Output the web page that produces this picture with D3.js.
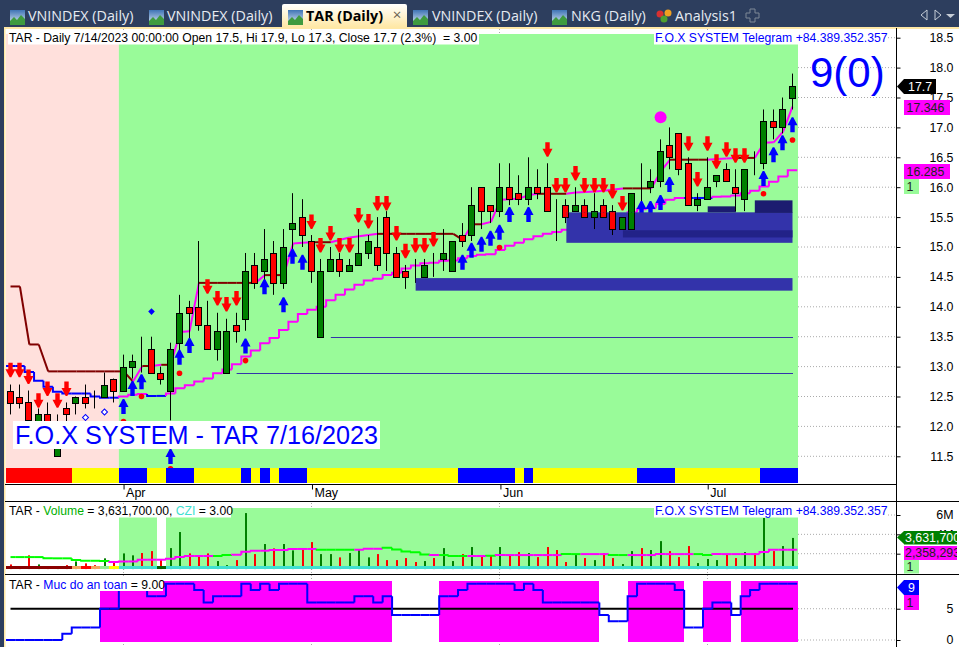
<!DOCTYPE html>
<html>
<head>
<meta charset="utf-8">
<title>TAR (Daily)</title>
<script src="https://cdn.jsdelivr.net/npm/d3@7"></script>
<style>
  html, body { margin: 0; padding: 0; background: #fff; overflow: hidden; }
  text { font-family: "Liberation Sans", Arial, sans-serif; }
  .tabs text { font-family: "Open Sans", sans-serif; }
</style>
</head>
<body>
<div id="chart"></div>
<script>
// candles, one entry per trading day, 3/16/2023 .. 7/14/2023
var opens = [12.6,12.5,12.4,12.0,12.2,11.5,12.3,12.4,12.5,12.5,12.5,12.8,12.6,13.0,13.2,13.3,12.9,12.6,13.4,14.0,14.0,13.7,13.3,12.9,13.7,13.8,14.7,14.6,14.9,14.4,15.3,15.5,15.1,13.5,14.6,14.8,14.6,14.7,14.9,15.0,15.5,14.9,14.6,14.5,14.5,14.7,14.8,14.6,15.2,15.2,16.0,15.7,15.6,16.0,15.9,15.8,16.0,16.0,15.6,15.7,15.6,15.7,15.5,15.7,15.6,15.3,15.3,16.0,16.0,16.1,16.7,16.9,16.4,15.7,15.8,16.1,16.3,16.0,15.8,16.4,16.4,17.1,17.0,17.5];
var highs = [12.7,12.7,12.6,12.3,12.4,12.2,12.4,12.5,12.7,12.6,12.9,12.8,13.2,13.2,13.5,13.5,13.0,13.4,14.2,14.1,15.1,14.1,13.9,13.8,13.9,14.9,14.9,15.3,15.1,15.3,15.9,15.8,15.2,14.8,15.0,14.9,14.8,15.3,15.2,15.5,15.6,15.0,14.7,14.8,14.8,14.9,15.3,15.1,15.4,16.0,16.0,15.7,16.4,16.4,16.2,16.5,16.3,16.4,15.8,15.8,16.0,15.8,15.9,15.8,15.7,15.5,15.9,16.4,16.3,16.8,17.0,16.9,16.5,15.9,16.5,16.2,16.4,16.3,16.3,16.6,17.3,17.3,17.5,17.9];
var lows = [12.2,12.3,11.9,12.0,11.9,11.5,12.0,12.2,12.3,12.3,12.5,12.4,12.6,12.8,12.9,12.9,12.7,12.1,13.2,13.4,13.6,13.3,13.1,12.9,13.4,13.6,14.3,14.4,14.2,14.3,14.9,15.0,14.4,13.5,14.6,14.5,14.6,14.7,14.8,14.6,14.6,14.5,14.3,14.4,14.5,14.5,14.6,14.6,15.0,15.1,15.3,15.4,15.5,15.7,15.7,15.7,15.8,15.6,15.1,15.4,15.6,15.5,15.3,15.5,15.2,15.3,15.3,15.7,15.9,16.0,16.3,16.2,15.7,15.6,15.8,16.0,16.1,15.6,15.6,16.2,16.3,16.8,16.9,17.3];
var closes = [12.4,12.4,12.1,12.2,12.0,12.0,12.2,12.5,12.4,12.5,12.7,12.6,13.0,13.1,13.2,12.9,12.8,13.3,13.9,13.9,13.7,13.3,13.6,13.6,13.6,14.6,14.4,14.8,14.4,15.0,15.4,15.2,14.6,14.6,14.8,14.6,14.7,14.9,15.1,14.7,14.9,14.5,14.5,14.5,14.7,14.7,14.9,15.1,15.1,15.7,15.6,15.6,16.0,15.8,15.8,16.0,15.9,15.6,15.6,15.5,15.7,15.5,15.6,15.5,15.3,15.5,15.9,16.0,16.1,16.6,16.5,16.3,15.7,15.8,16.0,16.2,16.1,15.9,16.3,16.4,17.1,17.0,17.3,17.7];

// trailing line and slower line on the price pane
var upperLine = [14.34,14.34,13.37,13.37,12.92,12.92,12.92,12.92,12.92,12.92,12.92,12.92,12.92,12.75,13.01,13.01,13.03,13.03,13.58,13.59,14.40,14.40,14.40,14.40,14.40,14.40,14.40,14.53,14.53,14.53,15.06,15.07,15.08,15.08,15.08,15.12,15.16,15.18,15.20,15.22,15.22,15.22,15.22,15.22,15.22,15.22,15.22,15.22,15.12,15.38,15.38,15.42,15.79,15.80,15.81,15.87,15.89,15.89,15.89,15.89,15.91,15.92,15.93,15.94,15.96,15.98,15.98,15.98,15.98,16.26,16.46,16.46,16.46,16.46,16.46,16.47,16.48,16.49,16.49,16.49,16.745,16.75,16.93,17.346];
var lowerLine = [13.01,13.01,12.91,12.765,12.665,12.58,12.55,12.55,12.55,12.50,12.48,12.48,12.50,12.53,12.54,12.51,12.51,12.55,12.64,12.69,12.75,12.80,12.89,12.95,13.04,13.17,13.27,13.39,13.48,13.61,13.75,13.88,13.95,14.00,14.11,14.20,14.29,14.37,14.44,14.47,14.53,14.57,14.64,14.69,14.73,14.735,14.77,14.775,14.81,14.85,14.87,14.88,14.95,15.02,15.07,15.13,15.18,15.22,15.25,15.29,15.33,15.37,15.41,15.45,15.50,15.54,15.58,15.63,15.65,15.72,15.79,15.82,15.82,15.82,15.82,15.84,15.845,15.86,15.90,15.94,16.01,16.09,16.18,16.285];

// signals: [bar index, price at the arrow tip]
var sellArrows = [[0,12.82],[1,12.82],[2,12.71],[3,12.31],[4,12.51],[5,12.31],[6,12.51],[21,14.22],[22,14.02],[23,13.92],[24,14.02],[32,15.30],[33,14.91],[34,15.11],[35,14.91],[36,14.91],[37,15.41],[38,15.31],[39,15.61],[40,15.61],[41,15.11],[42,14.81],[43,14.91],[44,14.91],[45,15.01],[57,16.51],[58,15.91],[59,15.91],[60,16.11],[61,15.91],[62,15.91],[63,15.91],[64,15.81],[65,15.61],[72,16.61],[73,16.01],[74,16.61],[75,16.31],[76,16.51],[77,16.41],[78,16.41]];
var buyArrows = [[12,12.46],[13,12.76],[14,12.87],[17,11.62],[18,13.28],[19,13.48],[25,13.47],[27,14.46],[29,14.16],[30,14.97],[31,14.87],[48,14.87],[49,15.07],[50,15.17],[51,15.27],[52,15.37],[53,15.67],[55,15.67],[67,15.77],[68,15.77],[69,15.87],[70,16.17],[80,16.27],[81,16.67],[82,16.87],[83,17.17]];
var redDots = [[12,12.08],[14,12.50],[17,11.29],[18,12.89],[25,13.10],[52,14.99],[80,15.89],[83,16.79]];
var blueDiamonds = [[15,13.92]];
var hollowDiamonds = [[8,12.15],[10,12.24]];
var bigDots = [[69,17.17]];

// [first bar, last bar, top price, bottom price]
var lightZones = [[43,83,14.48,14.27],[59,83,15.58,15.07]];
var midZones = [[65,83,15.28,15.16]];
var darkZones = [[74,77,15.68,15.58],[79,83,15.78,15.57]];
// [first bar, price]
var supportLines = [[34,13.49],[24,12.89]];

// 0 red, 1 yellow, 2 blue
var ribbon = [0,0,0,0,0,0,0,1,1,1,1,1,2,2,2,1,1,2,2,2,1,1,1,1,1,2,1,2,1,2,2,2,1,1,1,1,1,1,1,1,1,1,1,1,1,1,1,1,2,2,2,2,2,2,1,2,1,1,1,1,1,1,1,1,1,1,1,2,2,2,2,1,1,1,1,1,1,1,1,1,2,2,2,2];

// volume in millions
var volumes = [0.89,0.72,1.83,0.89,0.72,0.65,0.82,1.2,1.0,0.82,1.52,1.07,2.03,1.83,2.07,2.27,1.34,2.58,4.24,2.03,1.83,2.03,1.24,0.82,1.34,6.2,1.96,3.0,2.55,3.0,2.34,2.45,3.2,1.96,1.96,1.62,2.07,2.38,1.62,1.96,1.34,1.34,1.55,1.14,1.24,1.55,2.58,1.24,1.96,2.69,1.83,1.83,2.69,1.86,2.17,2.07,1.65,2.69,2.38,1.14,1.86,1.55,1.34,2.07,1.55,0.93,2.27,2.58,2.38,3.3,2.27,1.65,2.79,1.03,1.45,1.34,1.96,1.55,2.17,2.07,5.69,2.27,2.79,3.63];
var volumeAvg = [1.65,1.65,1.65,1.65,1.52,1.52,1.52,1.34,1.27,1.27,1.24,1.14,1.2,1.2,1.38,1.38,1.38,1.48,1.65,1.76,1.76,1.76,1.76,1.86,1.9,2.2,2.31,2.31,2.38,2.38,2.49,2.49,2.49,2.41,2.41,2.41,2.41,2.41,2.51,2.51,2.62,2.44,2.24,2.14,1.93,1.86,1.86,1.76,1.76,1.76,1.76,1.79,1.86,1.86,1.86,1.86,1.86,1.86,1.86,1.96,1.96,1.96,1.96,1.96,1.86,1.86,1.86,1.86,1.86,1.96,1.96,1.96,1.96,1.96,1.86,1.96,1.96,1.96,1.96,1.96,2.17,2.41,2.41,2.41];
// 1 magenta, 0 green
var volumeAvgUp = [0,0,0,0,0,0,0,0,0,0,0,1,1,1,1,1,1,1,1,1,1,1,0,0,1,1,1,1,1,1,1,1,1,0,0,0,0,1,1,1,0,0,0,0,0,1,0,0,0,1,1,0,1,1,1,1,1,1,1,0,0,1,1,1,0,0,1,1,1,1,1,1,1,0,0,1,1,1,1,1,1,1,1,1];
// CZI state strip: 0 dark red, 1 sandy, 2 red, 3 light green, 4 yellow, 5 turquoise, 6 dark green
var cziState = [0,0,0,0,0,0,0,1,2,1,3,4,5,5,5,5,6,5,5,5,5,5,5,5,5,5,5,5,5,5,5,5,5,5,5,5,5,5,5,5,5,5,5,5,5,5,5,5,5,5,5,5,5,5,5,5,5,5,5,5,5,5,5,5,5,5,5,5,5,5,5,5,5,5,5,5,5,5,5,5,5,5,5,5];

var safetyLevel = [0,0,0,0,0,0,1,2,2,2,5,5,8,8,8,7,7,9,9,9,8,6,7,7,7,9,8,9,8,9,9,9,6,6,6,6,6,7,7,6,7,4,4,4,4,4,7,7,8,9,9,9,9,9,8,9,8,6,6,6,6,6,6,4,3,3,7,9,9,9,9,8,2,2,5,6,6,4,7,8,9,9,9,9];

var priceTicks = [11.5,12,12.5,13,13.5,14,14.5,15,15.5,16,16.5,17,17.5,18,18.5];
var volumeTicks = [2,4,6];
var safetyTicks = [0,5];
var monthBars = [12,32,52,74];
var monthNames = ['Apr','May','Jun','Jul'];
var tabLabels = ['VNINDEX (Daily)','VNINDEX (Daily)','TAR (Daily)','VNINDEX (Daily)','NKG (Daily)','Analysis1'];
var tabTextX = [28,167,306,432,571,675];
var tabIconX = [10,149,288,413,552];

var width = 959, height = 647;
var axisX = 896.5;
var plotRight = 798;
var LABEL_SIZE = 12.2;
var AXIS_SIZE = 12.4;
var GREEN = '#99fb99', MAGENTA = '#ff00ff', MAROON = '#800000', BLUE = '#0000ff';
var CANDLE_UP = '#008000', CANDLE_DOWN = '#ff0000';

var x = d3.scaleLinear().domain([0, 83]).range([10.5, 792.5]);
var barW = x(1) - x(0);
var y = d3.scaleLinear().domain([18.5, 11.5]).range([37.7, 456.3]);
var yVol = d3.scaleLinear().domain([6, 2]).range([515, 553.7]);
var ySafe = d3.scaleLinear().domain([9, 0]).range([583.7, 640]);

var svg = d3.select('#chart').append('svg')
    .attr('width', width)
    .attr('height', height)
    .style('display', 'block');

function left(i) { return x(i) - barW/2; }
// pixel centre of a bar's wick
function cx(i) { return Math.round(x(i) - 1) + 0.5; }

// white box with a text on it, pieces are [string, colour]
function label(x0, y0, w, h, size, pieces, g) {
    g.append('rect').attr('x', x0).attr('y', y0).attr('width', w).attr('height', h).attr('fill', '#fff');
    var t = g.append('text').attr('x', x0 + 1).attr('y', y0 + h - 2.5).attr('font-size', size).attr('xml:space', 'preserve');
    pieces.forEach(function(p) {
        t.append('tspan').attr('fill', p[1]).text(p[0]);
    });
    return t;
}

function drawTag(x1, y0, h, fill, textFill, txt, pointed) {
    if (pointed) {
        svg.append('path')
            .attr('d', 'M897,' + (y0 + h/2) + 'L904,' + y0 + 'L904,' + (y0 + h) + 'Z')
            .attr('fill', fill);
    }
    svg.append('rect').attr('x', 904).attr('y', y0).attr('width', x1 - 904).attr('height', h).attr('fill', fill);
    svg.append('text')
        .attr('x', pointed ? 908 : 906.5)
        .attr('y', y0 + h - 3)
        .attr('font-size', AXIS_SIZE)
        .attr('fill', textFill)
        .text(txt);
}

// staircase line, bar by bar with its own colour
function stairs(g, values, scale, colorOf, sw, startX) {
    var line = d3.line().x(function(d) { return d[0]; }).y(function(d) { return d[1]; });
    values.forEach(function(v, i) {
        var prev = i === 0 ? v : values[i - 1];
        var x0 = i === 0 ? startX : left(i);
        g.append('path')
            .attr('d', line([[x0, scale(prev)], [x0, scale(v)], [left(i + 1), scale(v)]]))
            .attr('fill', 'none')
            .attr('stroke', colorOf(i))
            .attr('stroke-width', sw);
    });
}

function drawCandles(g) {
    var c = g.selectAll('g').data(d3.range(opens.length)).enter().append('g');
    c.append('line')
        .attr('x1', cx)
        .attr('x2', cx)
        .attr('y1', function(i) { return y(highs[i]); })
        .attr('y2', function(i) { return y(lows[i]); })
        .attr('stroke', '#000');
    c.append('rect')
        .attr('x', function(i) { return cx(i) - 3; })
        .attr('width', 6)
        .attr('y', function(i) { return Math.round(y(Math.max(opens[i], closes[i]))) + 0.5; })
        .attr('height', function(i) { return Math.round(Math.abs(y(opens[i]) - y(closes[i]))); })
        .attr('fill', function(i) { return closes[i] > opens[i] ? CANDLE_UP : CANDLE_DOWN; })
        .attr('stroke', '#000')
        .attr('stroke-width', 1);
}

/* ---------- window chrome ---------- */
svg.append('rect').attr('width', width).attr('height', 27).attr('fill', '#2d3e5e');
svg.append('rect').attr('y', 27).attr('width', 4).attr('height', height - 27).attr('fill', '#2d3e5e');
svg.append('rect').attr('x', 4).attr('y', 27).attr('width', width - 4).attr('height', 2).attr('fill', '#ffe8a6');
svg.append('rect').attr('x', 4).attr('y', 27).attr('width', 1.5).attr('height', height - 27).attr('fill', '#ffe8a6');

var grad = svg.append('defs').append('linearGradient').attr('id', 'tabfill').attr('x1', 0).attr('x2', 0).attr('y1', 0).attr('y2', 1);
grad.append('stop').attr('offset', 0).attr('stop-color', '#ffffff');
grad.append('stop').attr('offset', 1).attr('stop-color', '#ffe8a6');
var iconGrad = svg.select('defs').append('linearGradient').attr('id', 'iconfill').attr('x1', 0).attr('x2', 0).attr('y1', 0).attr('y2', 1);
iconGrad.append('stop').attr('offset', 0).attr('stop-color', '#3f74b5');
iconGrad.append('stop').attr('offset', 1).attr('stop-color', '#e6f0fa');

var tabs = svg.append('g').attr('class', 'tabs');
tabs.append('path').attr('d', 'M282,27V6Q282,4 284,4H405Q407,4 407,6V27Z').attr('fill', 'url(#tabfill)');
tabLabels.forEach(function(t, i) {
    tabs.append('text')
        .attr('x', tabTextX[i])
        .attr('y', 21)
        .attr('font-size', 14.3)
        .attr('font-weight', i === 2 ? 700 : 400)
        .attr('fill', i === 2 ? '#000' : '#e6ebf2')
        .text(t);
});
tabIconX.forEach(function(ix) {
    var ic = tabs.append('g').attr('transform', 'translate(' + ix + ',10)');
    ic.append('rect').attr('width', 15).attr('height', 15).attr('fill', 'url(#iconfill)');
    ic.append('path').attr('d', 'M0,15V11L4,7L7,10L11,5L15,9V15Z').attr('fill', '#3f9b3f');
});
tabs.append('text').attr('x', 397).attr('y', 20).attr('font-size', 15).attr('text-anchor', 'middle').attr('fill', '#6b6250').text('×');
tabs.append('circle').attr('cx', 660).attr('cy', 14).attr('r', 3.5).attr('fill', '#d83030');
tabs.append('circle').attr('cx', 668).attr('cy', 13).attr('r', 3.5).attr('fill', '#f0a020');
tabs.append('circle').attr('cx', 664).attr('cy', 19).attr('r', 3.5).attr('fill', '#50a030');
tabs.append('path')
    .attr('d', 'M750,9h5v4h4v5h-4v4h-5v-4h-4v-5h4Z')
    .attr('fill', 'none').attr('stroke', '#7f8896');
tabs.append('path').attr('d', 'M927,10L921,15L927,20Z').attr('fill', 'none').attr('stroke', '#c5ccd6');
tabs.append('path').attr('d', 'M935,10L941,15L935,20Z').attr('fill', 'none').attr('stroke', '#c5ccd6');
tabs.append('path').attr('d', 'M946,14H955L950.5,18Z').attr('fill', '#c5ccd6');

/* ---------- grid ---------- */
var grid = svg.append('g')
    .attr('stroke', '#aaa')
    .attr('stroke-dasharray', '1,2');
priceTicks.forEach(function(t) {
    grid.append('line').attr('x1', 6).attr('x2', axisX).attr('y1', y(t)).attr('y2', y(t));
});
volumeTicks.forEach(function(t) {
    grid.append('line').attr('x1', 6).attr('x2', axisX).attr('y1', yVol(t)).attr('y2', yVol(t));
});
safetyTicks.forEach(function(t) {
    grid.append('line').attr('x1', 6).attr('x2', axisX).attr('y1', ySafe(t)).attr('y2', ySafe(t));
});
monthBars.forEach(function(m) {
    grid.append('line').attr('x1', cx(m)).attr('x2', cx(m)).attr('y1', 29).attr('y2', height);
});

/* ---------- price pane ---------- */
var main = svg.append('g');
main.append('rect').attr('x', 6).attr('y', 34).attr('width', left(12) - 6).attr('height', 434).attr('fill', '#ffe0dc');
main.append('rect').attr('x', left(12)).attr('y', 34).attr('width', plotRight - left(12)).attr('height', 434).attr('fill', GREEN);

main.selectAll('.support').data(supportLines).enter().append('line')
    .attr('class', 'support')
    .attr('x1', function(d) { return x(d[0]); })
    .attr('x2', 793)
    .attr('y1', function(d) { return Math.round(y(d[1])) + 0.5; })
    .attr('y2', function(d) { return Math.round(y(d[1])) + 0.5; })
    .attr('stroke', '#3333aa');

stairs(main, lowerLine, y, function(i) {
    return i > 0 && lowerLine[i] > lowerLine[i - 1] ? MAGENTA : BLUE;
}, 2, 6);

upperLine.forEach(function(v, i) {
    if (i === 0) return;
    main.append('line')
        .attr('x1', x(i - 1)).attr('x2', x(i))
        .attr('y1', y(upperLine[i - 1])).attr('y2', y(v))
        .attr('stroke', v > upperLine[i - 1] ? MAGENTA : MAROON)
        .attr('stroke-width', 2);
});

drawCandles(main.append('g').attr('class', 'candles'));

var upArrow = 'M-0.8,0H0.8L5,8H2.2V15H-2.2V8H-5Z';
var downArrow = 'M-0.8,0H0.8L5,-8H2.2V-14.5H-2.2V-8H-5Z';
main.selectAll('.sell').data(sellArrows).enter().append('path')
    .attr('class', 'sell')
    .attr('d', downArrow)
    .attr('fill', '#ff0000')
    .attr('transform', function(d) { return 'translate(' + cx(d[0]) + ',' + y(d[1]) + ')'; });
main.selectAll('.buy').data(buyArrows).enter().append('path')
    .attr('class', 'buy')
    .attr('d', upArrow)
    .attr('fill', '#0000ff')
    .attr('transform', function(d) { return 'translate(' + cx(d[0]) + ',' + y(d[1]) + ')'; });

// zones sit over arrows but under the candles that cross them
function drawZones(zones, fill) {
    main.selectAll(null).data(zones).enter().append('rect')
        .attr('x', function(d) { return x(d[0]); })
        .attr('width', function(d) { return x(d[1]) - x(d[0]); })
        .attr('y', function(d) { return y(d[2]); })
        .attr('height', function(d) { return y(d[3]) - y(d[2]); })
        .attr('fill', fill);
}
drawZones(lightZones, '#3333aa');
drawZones(midZones, '#222288');
drawZones(darkZones, '#1c1c70');

var clip = svg.select('defs').append('clipPath').attr('id', 'zoneclip');
lightZones.concat(darkZones).forEach(function(d) {
    clip.append('rect')
        .attr('x', x(d[0])).attr('width', x(d[1]) - x(d[0]))
        .attr('y', y(d[2])).attr('height', y(d[3]) - y(d[2]));
});
drawCandles(main.append('g').attr('clip-path', 'url(#zoneclip)'));

main.selectAll('.rdot').data(redDots).enter().append('circle')
    .attr('class', 'rdot')
    .attr('cx', function(d) { return cx(d[0]); })
    .attr('cy', function(d) { return y(d[1]); })
    .attr('r', 2.8)
    .attr('fill', '#ff0000');
main.selectAll('.bdia').data(blueDiamonds).enter().append('path')
    .attr('class', 'bdia')
    .attr('d', d3.symbol().type(d3.symbolSquare).size(22))
    .attr('fill', BLUE)
    .attr('transform', function(d) { return 'translate(' + cx(d[0]) + ',' + y(d[1]) + ') rotate(45)'; });
main.selectAll('.hdia').data(hollowDiamonds).enter().append('path')
    .attr('class', 'hdia')
    .attr('d', d3.symbol().type(d3.symbolSquare).size(18))
    .attr('fill', '#fff')
    .attr('stroke', BLUE)
    .attr('transform', function(d) { return 'translate(' + cx(d[0]) + ',' + y(d[1]) + ') rotate(45)'; });
main.selectAll('.bigdot').data(bigDots).enter().append('circle')
    .attr('class', 'bigdot')
    .attr('cx', function(d) { return x(d[0]); })
    .attr('cy', function(d) { return y(d[1]); })
    .attr('r', 6)
    .attr('fill', MAGENTA);

var ribbonColors = ['#ff0000', '#ffff00', '#0000ff'];
main.selectAll('.rib').data(ribbon).enter().append('rect')
    .attr('class', 'rib')
    .attr('shape-rendering', 'crispEdges')
    .attr('x', function(d, i) { return i === 0 ? 6 : left(i); })
    .attr('width', function(d, i) { return i === 0 ? left(1) - 6 : barW + 0.3; })
    .attr('y', 468)
    .attr('height', 15)
    .attr('fill', function(d) { return ribbonColors[d]; });

label(13, 421, 367, 28, 25.2, [['F.O.X SYSTEM - TAR 7/16/2023', BLUE]], main).attr('x', 15).attr('y', 443.5);
label(8, 32, 471, 12.5, LABEL_SIZE, [['TAR - Daily 7/14/2023 00:00:00 Open 17.5, Hi 17.9, Lo 17.3, Close 17.7 (2.3%)  = 3.00', '#000']], main);
label(654, 32, 232, 12.5, LABEL_SIZE, [['F.O.X SYSTEM Telegram +84.389.352.357', BLUE]], main);
main.append('text').attr('x', 810).attr('y', 87).attr('font-size', 42).attr('fill', BLUE).text('9(0)');

/* ---------- date strip ---------- */
svg.append('line').attr('x1', 5).attr('x2', axisX).attr('y1', 484.5).attr('y2', 484.5).attr('stroke', '#000').attr('stroke-width', 1);
svg.append('rect').attr('x', 6).attr('y', 485).attr('width', axisX - 6).attr('height', 16).attr('fill', '#fff');
var dateAxis = d3.axisBottom(x)
    .tickValues(monthBars)
    .tickSize(5)
    .tickFormat(function(d) { return monthNames[monthBars.indexOf(d)]; });
var dates = svg.append('g').attr('transform', 'translate(0,484.5)').call(dateAxis);
dates.select('.domain').remove();
dates.selectAll('.tick line').attr('stroke', '#000');
dates.selectAll('.tick text')
    .attr('text-anchor', 'start')
    .attr('x', 2)
    .attr('y', 1.5)
    .attr('dy', '0.9em')
    .attr('font-size', 12.5)
    .attr('font-family', '"Liberation Sans", Arial, sans-serif')
    .attr('fill', '#000');
svg.append('line').attr('x1', 5).attr('x2', width).attr('y1', 501.5).attr('y2', 501.5).attr('stroke', '#000').attr('stroke-width', 1);

/* ---------- volume pane ---------- */
var vol = svg.append('g');
vol.append('rect').attr('x', 6).attr('y', 508).attr('width', plotRight - 6).attr('height', 61).attr('fill', '#fff');
vol.selectAll('.vbg').data(cziState).enter().append('rect')
    .attr('class', 'vbg')
    .attr('shape-rendering', 'crispEdges')
    .attr('x', function(d, i) { return left(i); })
    .attr('width', barW + 0.3)
    .attr('y', 508)
    .attr('height', 60)
    .attr('fill', function(d) { return d === 5 ? GREEN : '#fff'; });
vol.selectAll('.vbar').data(volumes).enter().append('rect')
    .attr('class', 'vbar')
    .attr('x', function(d, i) { return cx(i) - 0.5; })
    .attr('width', 2)
    .attr('y', function(d) { return yVol(d); })
    .attr('height', function(d) { return yVol(0.41) - yVol(d); })
    .attr('fill', function(d, i) { return closes[i] > opens[i] ? CANDLE_UP : CANDLE_DOWN; });
var cziColors = ['#8b0000', '#f4a460', '#ff0000', '#90ee90', '#ffff00', '#40e0d0', '#006400'];
vol.selectAll('.czi').data(cziState).enter().append('rect')
    .attr('class', 'czi')
    .attr('shape-rendering', 'crispEdges')
    .attr('x', function(d, i) { return i === 0 ? 6 : left(i); })
    .attr('width', function(d, i) { return i === 0 ? left(1) - 6 : barW + 0.3; })
    .attr('y', 566)
    .attr('height', 3)
    .attr('fill', function(d) { return cziColors[d]; });
stairs(vol, volumeAvg, yVol, function(i) { return volumeAvgUp[i] ? MAGENTA : '#00ff00'; }, 2, x(0));
label(8, 505, 223, 12.5, LABEL_SIZE, [['TAR - ', '#000'], ['Volume', '#00b000'], [' = 3,631,700.00, ', '#000'], ['CZI', '#40e0d0'], [' = 3.00', '#000']], vol);
label(654, 505, 232, 12.5, LABEL_SIZE, [['F.O.X SYSTEM Telegram +84.389.352.357', BLUE]], vol);
svg.append('line').attr('x1', 5).attr('x2', width).attr('y1', 574.5).attr('y2', 574.5).attr('stroke', '#000').attr('stroke-width', 1);

/* ---------- safety pane ---------- */
var safe = svg.append('g');
safe.append('rect').attr('x', 6).attr('y', 581).attr('width', plotRight - 6).attr('height', 61).attr('fill', '#fff');
safe.selectAll('.sbg').data(safetyLevel).enter().append('rect')
    .attr('class', 'sbg')
    .attr('shape-rendering', 'crispEdges')
    .attr('x', function(d, i) { return left(i); })
    .attr('width', barW + 0.3)
    .attr('y', 581)
    .attr('height', 61)
    .attr('fill', function(d) { return d >= 5 ? MAGENTA : '#fff'; });
safe.append('line')
    .attr('x1', x(0)).attr('x2', 793)
    .attr('y1', ySafe(5)).attr('y2', ySafe(5))
    .attr('stroke', '#000').attr('stroke-width', 2);
stairs(safe, safetyLevel, ySafe, function() { return BLUE; }, 2, 6);
label(8, 578, 155, 13, LABEL_SIZE, [['TAR - ', '#000'], ['Muc do an toan', BLUE], [' = 9.00', '#000']], safe);

/* ---------- right axes ---------- */
function rightAxis(scale, ticks, fmt) {
    var a = svg.append('g')
        .attr('transform', 'translate(' + axisX + ',0)')
        .call(d3.axisRight(scale).tickValues(ticks).tickSize(4).tickFormat(fmt));
    a.select('.domain').remove();
    a.selectAll('.tick line').attr('stroke', '#000');
    a.selectAll('.tick text')
        .attr('x', 57)
        .attr('text-anchor', 'end')
        .attr('font-size', AXIS_SIZE)
        .attr('font-family', '"Liberation Sans", Arial, sans-serif')
        .attr('fill', '#000');
}
rightAxis(y, priceTicks, d3.format('.1f'));
rightAxis(yVol, volumeTicks, function(d) { return d + 'M'; });
rightAxis(ySafe, safetyTicks, d3.format('d'));
svg.append('line').attr('x1', axisX).attr('x2', axisX).attr('y1', 28).attr('y2', height).attr('stroke', '#000').attr('stroke-width', 1);

drawTag(936, 79, 15, '#000', '#fff', '17.7', true);
drawTag(950, 100, 15, MAGENTA, '#222', '17.346', false);
drawTag(950, 164, 15, MAGENTA, '#222', '16.285', false);
drawTag(919, 179, 15, GREEN, '#222', '1', false);

var tagClip = svg.select('defs').append('clipPath').attr('id', 'winclip');
tagClip.append('rect').attr('x', 897).attr('y', 525).attr('width', 60).attr('height', 40);
var clipped = svg.append('g').attr('clip-path', 'url(#winclip)');
clipped.append('path').attr('d', 'M897,537.5L904,531V544Z').attr('fill', '#008000');
clipped.append('rect').attr('x', 904).attr('y', 531).attr('width', 53).attr('height', 13.5).attr('fill', '#008000');
clipped.append('text').attr('x', 905).attr('y', 542).attr('font-size', AXIS_SIZE).attr('fill', '#fff').text('3,631,700');
clipped.append('rect').attr('x', 904).attr('y', 546).attr('width', 53).attr('height', 14).attr('fill', MAGENTA);
clipped.append('text').attr('x', 905).attr('y', 557).attr('font-size', AXIS_SIZE).attr('fill', '#222').text('2,358,293');
drawTag(919, 560, 13.5, GREEN, '#222', '1', false);
drawTag(919, 580, 15, BLUE, '#fff', '9', true);
drawTag(919, 595, 15, MAGENTA, '#222', '1', false);
</script>
</body>
</html>
